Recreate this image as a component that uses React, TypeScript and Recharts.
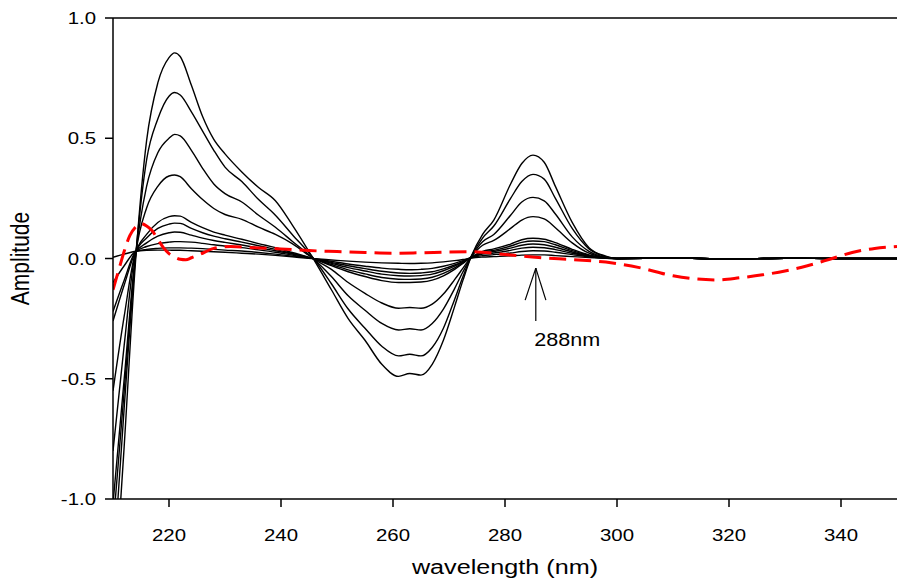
import React from "react";
import { LineChart, Line, XAxis, YAxis, ReferenceLine, ReferenceDot } from "recharts";

// wavelength grid shared by the black derivative curves
const wavelengths = [
  210, 212, 214, 216, 218, 220, 221, 222, 224, 226, 228, 230, 233, 236, 239, 242, 246, 249, 252, 255,
  258, 261, 263, 265, 267, 269, 271, 272.5, 274, 276, 278, 281, 283, 285, 287, 289, 292, 295, 298, 300,
  310, 320, 330, 340, 350,
];

const curve1 = [
  -1.5, -0.78, -0.02, 0.49, 0.73, 0.835, 0.855, 0.84, 0.72, 0.59, 0.495, 0.435, 0.36, 0.295, 0.24, 0.14, -0.01, -0.13, -0.25, -0.34,
  -0.44, -0.49, -0.478, -0.485, -0.44, -0.34, -0.2, -0.09, 0.01, 0.1, 0.16, 0.31, 0.395, 0.43, 0.4, 0.3, 0.15, 0.045, 0.01, 0,
  0.002, -0.002, 0.001, 0, 0,
];
const curve2 = [
  -1.3, -0.62, 0.0, 0.41, 0.58, 0.675, 0.69, 0.68, 0.61, 0.53, 0.45, 0.38, 0.32, 0.245, 0.18, 0.1, -0.005, -0.105, -0.21, -0.29,
  -0.365, -0.405, -0.398, -0.405, -0.37, -0.29, -0.17, -0.075, 0.01, 0.085, 0.135, 0.25, 0.32, 0.35, 0.33, 0.25, 0.125, 0.04, 0.008, 0,
  0.002, -0.002, 0.001, 0, 0,
];
const curve3 = [
  -1.12, -0.55, 0.005, 0.3, 0.44, 0.5, 0.516, 0.51, 0.45, 0.375, 0.31, 0.27, 0.235, 0.18, 0.13, 0.072, -0.005, -0.075, -0.155, -0.215,
  -0.27, -0.297, -0.292, -0.297, -0.27, -0.21, -0.125, -0.055, 0.008, 0.07, 0.1, 0.18, 0.235, 0.254, 0.24, 0.185, 0.09, 0.03, 0.005, 0,
  0.002, -0.002, 0.001, 0, 0,
];
const curve4 = [
  -1.02, -0.5, 0.01, 0.21, 0.3, 0.343, 0.347, 0.34, 0.29, 0.245, 0.208, 0.183, 0.163, 0.13, 0.1, 0.062, -0.004, -0.045, -0.1, -0.145,
  -0.185, -0.207, -0.204, -0.207, -0.19, -0.148, -0.088, -0.04, 0.008, 0.055, 0.075, 0.125, 0.16, 0.174, 0.165, 0.128, 0.065, 0.022, 0.004, 0,
  0.002, -0.002, 0.001, 0, 0,
];
const curve5 = [
  -0.8, -0.36, 0.02, 0.1, 0.15, 0.174, 0.178, 0.176, 0.15, 0.128, 0.11, 0.097, 0.08, 0.062, 0.045, 0.025, -0.002, -0.03, -0.055, -0.075,
  -0.092, -0.1, -0.1, -0.098, -0.09, -0.072, -0.045, -0.02, 0.006, 0.03, 0.04, 0.06, 0.078, 0.084, 0.08, 0.066, 0.038, 0.015, 0.003, 0,
  0.002, -0.002, 0.001, 0, 0,
];
const curve6 = [
  -0.55, -0.24, 0.022, 0.085, 0.125, 0.143, 0.147, 0.146, 0.125, 0.107, 0.093, 0.082, 0.068, 0.053, 0.038, 0.021, -0.002, -0.025, -0.047, -0.064,
  -0.079, -0.086, -0.087, -0.085, -0.078, -0.062, -0.039, -0.017, 0.006, 0.026, 0.034, 0.052, 0.067, 0.073, 0.07, 0.057, 0.033, 0.013, 0.003, 0,
  0.002, -0.002, 0.001, 0, 0,
];
const curve7 = [
  -0.26, -0.11, 0.025, 0.065, 0.093, 0.107, 0.11, 0.109, 0.097, 0.085, 0.075, 0.067, 0.056, 0.044, 0.032, 0.018, -0.002, -0.02, -0.038, -0.052,
  -0.065, -0.072, -0.073, -0.071, -0.065, -0.051, -0.032, -0.014, 0.005, 0.022, 0.029, 0.043, 0.055, 0.06, 0.057, 0.047, 0.027, 0.011, 0.002, 0,
  0.002, -0.002, 0.001, 0, 0,
];
const curve8 = [
  -0.22, -0.09, 0.027, 0.05, 0.062, 0.068, 0.07, 0.07, 0.068, 0.063, 0.057, 0.052, 0.045, 0.036, 0.026, 0.014, -0.002, -0.016, -0.03, -0.042,
  -0.053, -0.06, -0.062, -0.06, -0.055, -0.043, -0.027, -0.012, 0.004, 0.018, 0.023, 0.034, 0.043, 0.047, 0.045, 0.037, 0.022, 0.009, 0.002, 0,
  0.002, -0.002, 0.001, 0, 0,
];
const curve9 = [
  -0.1, -0.03, 0.028, 0.038, 0.042, 0.044, 0.044, 0.044, 0.043, 0.041, 0.038, 0.035, 0.031, 0.025, 0.018, 0.01, -0.001, -0.012, -0.023, -0.032,
  -0.04, -0.045, -0.047, -0.045, -0.041, -0.032, -0.02, -0.009, 0.003, 0.012, 0.016, 0.023, 0.029, 0.032, 0.031, 0.026, 0.016, 0.007, 0.001, 0,
  0.002, -0.002, 0.001, 0, 0,
];
const curve10 = [
  0.005, 0.018, 0.03, 0.034, 0.035, 0.035, 0.034, 0.034, 0.032, 0.03, 0.028, 0.026, 0.022, 0.018, 0.013, 0.007, -0.001, -0.006, -0.011, -0.015,
  -0.018, -0.02, -0.021, -0.02, -0.018, -0.014, -0.009, -0.004, 0.002, 0.006, 0.008, 0.011, 0.014, 0.015, 0.015, 0.012, 0.008, 0.004, 0.001, 0,
  0.002, -0.002, 0.001, 0, 0,
];

const blackCurves = [curve1, curve2, curve3, curve4, curve5, curve6, curve7, curve8, curve9, curve10];

// red dashed reference curve, own sampling
const redWavelengths = [
  210, 211, 212, 213, 214, 215, 216, 217, 218, 219, 220, 221, 222, 223, 224, 225.5, 228, 231, 235, 240,
  245, 250, 255, 260, 265, 270, 274, 280, 286, 292, 298, 304, 310, 314, 318, 322, 326, 330, 334, 338,
  342, 346, 350,
];
const redCurve = [
  -0.13, -0.05, 0.03, 0.095, 0.13, 0.145, 0.135, 0.115, 0.08, 0.045, 0.02, 0.006, -0.003, -0.005, 0.003, 0.017, 0.042, 0.05, 0.045, 0.04,
  0.033, 0.029, 0.025, 0.022, 0.024, 0.027, 0.028, 0.017, 0.004, -0.005, -0.015, -0.038, -0.072, -0.085, -0.089, -0.08, -0.068, -0.052, -0.03, -0.003,
  0.025, 0.042, 0.05,
];

const xTicks = [220, 240, 260, 280, 300, 320, 340];
const yTicks = [-1, -0.5, 0, 0.5, 1];

const FONT = '"Liberation Sans", Arial, sans-serif';
const SX = 1.2; // the reference text is stretched horizontally

const toRows = (xs: number[], ys: number[]) => xs.map((wl, i) => ({ wl, v: ys[i] }));

function XTick(props: any) {
  const { x, y, payload } = props;
  return (
    <text transform={`translate(${x},${y}) scale(${SX},1)`} textAnchor="middle" dy="0.71em" fontSize={17} fontFamily={FONT} fill="#000">
      {payload.value}
    </text>
  );
}

function YTick(props: any) {
  const { x, y, payload } = props;
  return (
    <text transform={`translate(${x},${y}) scale(${SX},1)`} textAnchor="end" dy="0.355em" fontSize={17} fontFamily={FONT} fill="#000">
      {Number(payload.value).toFixed(1)}
    </text>
  );
}

function XTitle(props: any) {
  const vb = props.viewBox || { x: 113, y: 499, width: 784, height: 81 };
  return (
    <text transform={`translate(${vb.x + vb.width / 2},${vb.y + vb.height - 6}) scale(${SX},1)`} textAnchor="middle" fontSize={21} fontFamily={FONT} fill="#000">
      wavelength (nm)
    </text>
  );
}

function YTitle(props: any) {
  const vb = props.viewBox || { x: 0, y: 18, width: 113, height: 481 };
  return (
    <text transform={`translate(20,${vb.y + vb.height / 2}) scale(${SX},1) rotate(-90)`} textAnchor="middle" dy="0.355em" fontSize={21} fontFamily={FONT} fill="#000">
      Amplitude
    </text>
  );
}

function ArrowText(props: any) {
  const vb = props.viewBox || { x: 0, y: 0 };
  return (
    <text transform={`translate(${vb.x},${vb.y}) scale(${SX},1)`} textAnchor="start" dy="0.355em" fontSize={18} fontFamily={FONT} fill="#000">
      288nm
    </text>
  );
}

export default function App() {
  return (
    <div style={{ position: "absolute", left: 0, top: 0, width: 898, height: 580, background: "#fff" }}>
      <LineChart width={898} height={580} margin={{ top: 18, right: 1, bottom: 0, left: 0 }}>
        <XAxis
          type="number"
          dataKey="wl"
          domain={[210, 350]}
          ticks={xTicks}
          interval={0}
          allowDataOverflow
          height={81}
          tickSize={8}
          tickMargin={22}
          axisLine={{ stroke: "#000", strokeWidth: 1.5 }}
          tickLine={{ stroke: "#000", strokeWidth: 1.5 }}
          tick={<XTick />}
          label={{ content: <XTitle /> }}
        />
        <YAxis
          type="number"
          domain={[-1, 1]}
          ticks={yTicks}
          interval={0}
          allowDataOverflow
          width={113}
          tickSize={8}
          tickMargin={9}
          axisLine={{ stroke: "#000", strokeWidth: 1.5 }}
          tickLine={{ stroke: "#000", strokeWidth: 1.5 }}
          tick={<YTick />}
          label={{ content: <YTitle /> }}
        />
        <ReferenceLine y={1} stroke="#000" strokeWidth={1.5} />
        {blackCurves.map((c, i) => (
          <Line
            key={i}
            data={toRows(wavelengths, c)}
            dataKey="v"
            type="monotone"
            stroke="#000"
            strokeWidth={1.4}
            dot={false}
            isAnimationActive={false}
          />
        ))}
        <Line
          data={toRows(redWavelengths, redCurve)}
          dataKey="v"
          type="monotone"
          stroke="#ff0000"
          strokeWidth={3}
          strokeDasharray="17 8"
          dot={false}
          isAnimationActive={false}
        />
        {/* arrow pointing at the 288 nm band */}
        <ReferenceLine segment={[{ x: 285.5, y: -0.04 }, { x: 285.5, y: -0.26 }]} stroke="#000" strokeWidth={1.2} />
        <ReferenceLine segment={[{ x: 285.5, y: -0.04 }, { x: 283.6, y: -0.173 }]} stroke="#000" strokeWidth={1.2} />
        <ReferenceLine segment={[{ x: 285.5, y: -0.04 }, { x: 287.3, y: -0.173 }]} stroke="#000" strokeWidth={1.2} />
        <ReferenceDot x={285.4} y={-0.343} r={1} fill="none" stroke="none" label={{ content: <ArrowText /> }} />
      </LineChart>
    </div>
  );
}
